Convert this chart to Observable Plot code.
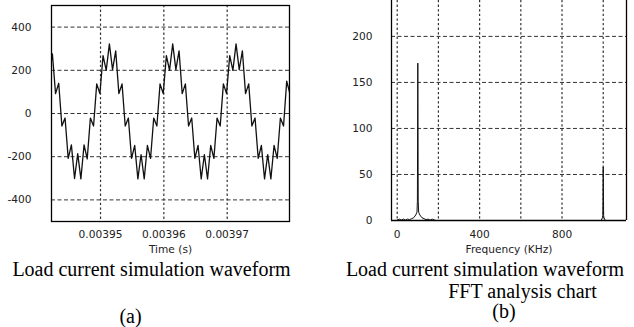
<!DOCTYPE html>
<html><head><meta charset="utf-8">
<script src="https://cdn.jsdelivr.net/npm/d3@7"></script>
<script src="https://cdn.jsdelivr.net/npm/@observablehq/plot@0.6"></script>
<style>
html,body{margin:0;padding:0;background:#fff;}
#wrap{position:relative;width:634px;height:327px;overflow:hidden;background:#fff;}
.chart{position:absolute;top:0;}
.cap{position:absolute;font-family:"Liberation Serif","Times New Roman",serif;font-size:20px;line-height:20px;color:#000;white-space:nowrap;text-align:center;}
</style></head><body>
<div id="wrap">
  <div id="left" class="chart" style="left:0px"></div>
  <div id="right" class="chart" style="left:340px"></div>
  <div class="cap" style="left:0px;width:303px;top:259.3px">Load current simulation waveform</div>
  <div class="cap" style="left:80.5px;width:100px;top:305.6px">(a)</div>
  <div class="cap" style="left:335px;width:300px;top:259.3px">Load current simulation waveform</div>
  <div class="cap" style="left:422.5px;width:200px;top:281.3px">FFT analysis chart</div>
  <div class="cap" style="left:454px;width:100px;top:301.3px">(b)</div>
</div>
<script>
// ---- (a) load current waveform: time in microseconds, current in A ----
const timeUs = [3941.9, 3942.4, 3942.9, 3943.4, 3943.9, 3944.4, 3944.9, 3945.4, 3945.9, 3946.4,
  3946.9, 3947.4, 3947.9, 3948.4, 3948.9, 3949.4, 3949.9, 3950.4, 3950.9, 3951.4,
  3951.9, 3952.4, 3952.9, 3953.4, 3953.9, 3954.4, 3954.9, 3955.4, 3955.9, 3956.4,
  3956.9, 3957.4, 3957.9, 3958.4, 3958.9, 3959.4, 3959.9, 3960.4, 3960.9, 3961.4,
  3961.9, 3962.4, 3962.9, 3963.4, 3963.9, 3964.4, 3964.9, 3965.4, 3965.9, 3966.4,
  3966.9, 3967.4, 3967.9, 3968.4, 3968.9, 3969.4, 3969.9, 3970.4, 3970.9, 3971.4,
  3971.9, 3972.4, 3972.9, 3973.4, 3973.9, 3974.4, 3974.9, 3975.4, 3975.9, 3976.4,
  3976.9, 3977.4, 3977.9, 3978.4, 3978.9, 3979.4, 3979.9, 3980.4];
const current = [185, 276, 92, 140, -58, -21, -208, -145, -301, -186, -303, -145, -210, -21, -58, 137, 92, 268, 200, 322,
  203, 290, 92, 137, -58, -21, -208, -148, -303, -190, -303, -148, -208, -21, -58, 137, 92, 268, 200, 322,
  203, 290, 92, 137, -58, -21, -208, -148, -303, -190, -303, -148, -208, -21, -58, 137, 92, 268, 200, 322,
  203, 290, 92, 137, -58, -21, -208, -148, -303, -190, -303, -148, -208, -21, -58, 150, 92, 268];
const leftXTicks = [0.00395, 0.00396, 0.00397];
const leftYTicks = [-400, -200, 0, 200, 400];
const leftXLabel = "Time (s)";

// ---- (b) FFT spectrum: frequency in kHz, magnitude ----
const freqKHz = [0, 10, 20, 30, 40, 50, 60, 70, 80, 90, 96, 98, 100, 102, 104, 110, 120, 130, 140, 150, 160, 170, 180, 190,
  990, 996, 998, 1000, 1002, 1004, 1010, 1113];
const magnitude = [0.5, 1.5, 0.5, 1.5, 0.5, 1.5, 1, 2, 3, 6, 9, 21, 171, 21, 9, 6, 3, 2, 1, 1.5, 0.5, 1.5, 0.5, 0,
  0, 3, 5, 58, 5, 3, 0, 0];
const rightXTicks = [0, 400, 800];
const rightXGrid = [0, 200, 400, 600, 800, 1000];
const rightYTicks = [0, 50, 100, 150, 200];
const rightYGrid = [50, 100, 150, 200];
const rightXLabel = "Frequency (KHz)";

const axisFont = {fontFamily: "'DejaVu Sans', Verdana, sans-serif", fontSize: "10.6px", color: "#222", background: "transparent", overflow: "visible"};
const gridStroke = "#333";

const leftData = timeUs.map((t, k) => ({t: t * 1e-6, i: current[k]}));
const leftXDomain = [0.00394226, 0.00397984];

const leftPlot = Plot.plot({
  width: 300, height: 258,
  marginLeft: 51, marginRight: 11, marginTop: 5, marginBottom: 37,
  style: axisFont,
  x: {domain: leftXDomain, ticks: leftXTicks, tickFormat: d3.format(".5f"), tickSize: 0, tickPadding: 9, label: null},
  y: {domain: [-500, 500], ticks: leftYTicks, tickFormat: d => String(d), tickSize: 0, tickPadding: 20, label: null},
  marks: [
    Plot.gridY(leftYTicks, {stroke: gridStroke, strokeOpacity: 1, strokeDasharray: "4,2.5"}),
    Plot.gridX(leftXTicks, {stroke: gridStroke, strokeOpacity: 1, strokeDasharray: "2.3,2.3", strokeWidth: 1.2}),
    Plot.line(leftData, {x: "t", y: "i", stroke: "#111", strokeWidth: 1.3, clip: true}),
    Plot.frame({stroke: "#000", strokeWidth: 1.3}),
    Plot.text([leftXLabel], {text: d => d, frameAnchor: "bottom", dy: 28, lineAnchor: "middle", fill: "#222", fontSize: 10.6})
  ]
});
document.getElementById("left").appendChild(leftPlot);

const fftData = freqKHz.map((f, k) => ({f, m: magnitude[k]}));
const rightXDomain = [-27.7, 1113];

const rightPlot = Plot.plot({
  width: 294, height: 258,
  marginLeft: 51, marginRight: 8, marginTop: 0, marginBottom: 38,
  style: axisFont,
  x: {domain: rightXDomain, ticks: rightXTicks, tickSize: 0, tickPadding: 10, label: null},
  y: {domain: [0, 239], ticks: rightYTicks, tickSize: 0, tickPadding: 19, label: null},
  marks: [
    Plot.gridY(rightYGrid, {stroke: gridStroke, strokeOpacity: 1, strokeDasharray: "4,2.5"}),
    Plot.gridX(rightXGrid, {stroke: gridStroke, strokeOpacity: 1, strokeDasharray: "2.3,2.3", strokeWidth: 1.2}),
    Plot.line(fftData, {x: "f", y: "m", stroke: "#111", strokeWidth: 1, clip: true}),
    Plot.ruleX(rightXDomain, {stroke: "#000", strokeWidth: 1.3}),
    Plot.ruleY([0], {stroke: "#000", strokeWidth: 1.3}),
    Plot.text([rightXLabel], {text: d => d, frameAnchor: "bottom", dy: 29, lineAnchor: "middle", fill: "#222", fontSize: 10.6})
  ]
});
document.getElementById("right").appendChild(rightPlot);
</script>
</body></html>
